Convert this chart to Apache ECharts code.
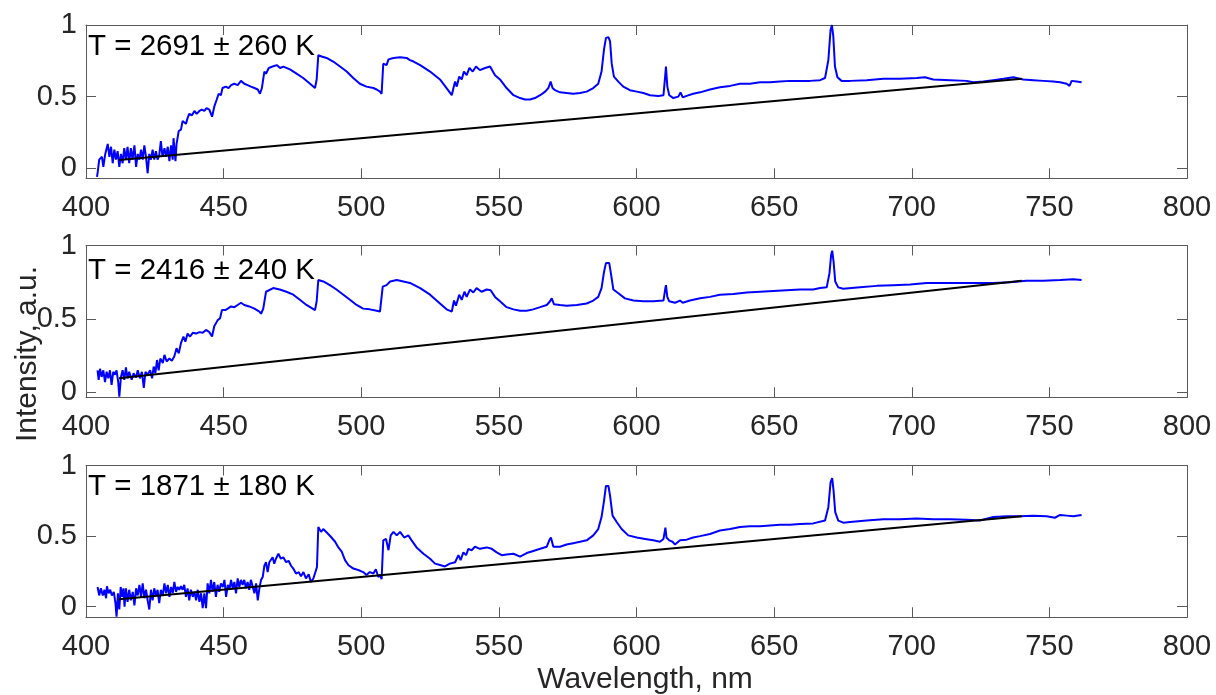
<!DOCTYPE html>
<html>
<head>
<meta charset="utf-8">
<title>Emission spectra with Planck fits</title>
<script src="https://cdn.jsdelivr.net/npm/echarts@6/dist/echarts.min.js"></script>
<style>
  html, body { margin: 0; padding: 0; background: #ffffff; }
  #chart { width: 1216px; height: 695px; }
</style>
</head>
<body>
<div id="chart"></div>
<script>
// Measured spectra: [wavelength (nm), normalised intensity]
const spectrum1 = [[404.0,-0.06],[404.3,-0.02],[404.8,0.06],[405.8,0.08],[406.3,0.01],[407.0,0.10],[407.9,0.17],[408.5,0.08],[409.1,0.15],[409.7,0.035],[410.3,0.13],[410.9,0.06],[411.5,0.12],[412.1,0.01],[412.7,0.10],[413.3,0.035],[413.9,0.14],[414.5,0.06],[415.1,0.15],[415.7,0.035],[416.3,0.14],[416.9,0.06],[417.6,0.16],[418.2,0.01],[418.8,0.10],[419.4,0.06],[420.0,0.13],[420.6,0.06],[421.2,0.16],[421.8,0.08],[422.4,-0.035],[423.0,0.10],[423.6,0.06],[424.2,0.13],[424.8,0.06],[425.4,0.12],[426.0,0.06],[426.6,0.09],[427.2,0.19],[427.8,0.08],[428.5,0.14],[429.1,0.08],[429.7,0.15],[430.3,0.05],[430.9,0.16],[431.5,0.06],[431.8,0.21],[432.5,0.05],[432.9,0.17],[433.7,0.26],[434.5,0.27],[435.1,0.33],[435.7,0.34],[436.3,0.31],[436.9,0.35],[437.5,0.38],[438.5,0.37],[439.4,0.40],[440.2,0.38],[441.2,0.40],[442.1,0.41],[443.0,0.40],[443.8,0.42],[444.8,0.41],[445.8,0.36],[446.6,0.43],[447.5,0.48],[448.2,0.52],[449.0,0.51],[449.6,0.56],[450.8,0.57],[451.8,0.56],[452.7,0.58],[453.9,0.59],[455.1,0.58],[456.3,0.61],[457.5,0.59],[458.7,0.58],[459.9,0.57],[461.2,0.56],[462.4,0.55],[463.2,0.52],[463.9,0.56],[464.8,0.675],[465.4,0.66],[466.4,0.70],[467.8,0.71],[469.3,0.72],[470.5,0.70],[471.7,0.71],[474.1,0.69],[476.5,0.66],[478.9,0.63],[481.4,0.59],[483.2,0.56],[483.8,0.62],[484.4,0.79],[485.6,0.78],[487.4,0.77],[489.8,0.745],[492.3,0.71],[494.7,0.675],[497.1,0.63],[499.5,0.59],[501.9,0.57],[504.4,0.56],[505.6,0.55],[506.8,0.535],[507.4,0.52],[508.0,0.73],[509.2,0.72],[509.9,0.76],[511.7,0.77],[514.1,0.775],[516.5,0.77],[517.7,0.755],[519.0,0.745],[521.4,0.72],[525.0,0.675],[528.6,0.62],[531.0,0.56],[532.9,0.51],[533.5,0.56],[534.1,0.605],[534.7,0.57],[535.6,0.64],[536.5,0.62],[537.3,0.675],[538.3,0.65],[539.3,0.70],[540.5,0.675],[541.7,0.71],[543.1,0.685],[545.0,0.70],[546.8,0.71],[548.6,0.65],[550.4,0.62],[552.8,0.56],[555.3,0.51],[557.7,0.49],[559.5,0.48],[561.3,0.48],[563.1,0.49],[565.0,0.51],[566.8,0.535],[568.0,0.56],[568.8,0.605],[569.5,0.56],[570.4,0.545],[572.2,0.53],[574.6,0.525],[577.0,0.52],[579.5,0.525],[581.9,0.535],[584.3,0.56],[586.1,0.59],[587.3,0.675],[588.2,0.83],[588.9,0.91],[589.8,0.915],[590.4,0.885],[591.0,0.73],[591.8,0.64],[593.4,0.605],[595.2,0.57],[597.6,0.545],[600.1,0.535],[602.5,0.525],[604.9,0.51],[607.9,0.505],[609.8,0.51],[610.4,0.64],[610.7,0.71],[611.2,0.57],[611.9,0.51],[613.4,0.49],[615.2,0.50],[616.0,0.53],[616.8,0.495],[618.2,0.505],[620.6,0.52],[623.1,0.53],[626.7,0.55],[630.3,0.565],[634.0,0.575],[637.6,0.59],[641.2,0.59],[644.9,0.60],[648.5,0.60],[652.1,0.605],[655.8,0.61],[659.4,0.61],[663.0,0.61],[666.7,0.615],[668.5,0.63],[669.7,0.755],[670.5,0.965],[671.0,1.0],[671.5,0.92],[672.1,0.71],[673.0,0.635],[674.5,0.61],[677.6,0.61],[683.6,0.615],[689.7,0.625],[695.7,0.625],[701.8,0.63],[704.8,0.635],[707.8,0.62],[713.9,0.615],[719.9,0.61],[722.4,0.60],[726.0,0.605],[729.6,0.615],[733.3,0.625],[736.9,0.635],[740.5,0.62],[744.2,0.615],[747.8,0.61],[751.4,0.605],[753.9,0.60],[756.3,0.59],[757.3,0.575],[758.1,0.61],[759.9,0.605],[761.7,0.60]];

const spectrum2 = [[404.2,0.15],[404.6,0.085],[405.1,0.16],[405.7,0.105],[406.3,0.15],[406.9,0.07],[407.5,0.14],[408.1,0.095],[408.7,0.15],[409.3,0.05],[409.9,0.14],[410.5,0.12],[411.1,0.15],[411.7,0.07],[412.1,-0.03],[412.7,0.105],[413.3,0.15],[413.9,0.085],[414.5,0.17],[415.1,0.095],[415.7,0.14],[416.6,0.085],[417.3,0.13],[418.2,0.10],[418.8,0.15],[419.6,0.095],[420.3,0.14],[421.0,0.03],[421.6,0.14],[422.4,0.12],[423.3,0.15],[424.0,0.095],[424.6,0.175],[425.2,0.13],[425.8,0.22],[426.4,0.15],[427.0,0.23],[427.9,0.20],[428.5,0.255],[429.3,0.21],[430.3,0.23],[431.2,0.215],[432.1,0.245],[432.9,0.30],[433.7,0.265],[434.5,0.335],[435.4,0.38],[436.1,0.345],[436.9,0.40],[437.8,0.38],[438.8,0.405],[440.0,0.40],[441.2,0.41],[442.4,0.405],[443.6,0.425],[444.8,0.41],[445.8,0.38],[446.6,0.45],[447.8,0.49],[448.7,0.505],[449.4,0.56],[450.6,0.56],[451.5,0.57],[452.7,0.585],[453.9,0.58],[455.1,0.595],[456.3,0.61],[457.5,0.595],[459.3,0.585],[461.2,0.57],[463.0,0.55],[463.6,0.535],[464.4,0.57],[465.4,0.685],[468.0,0.71],[470.4,0.70],[472.8,0.685],[475.3,0.665],[477.7,0.63],[480.1,0.595],[483.2,0.56],[483.8,0.62],[484.4,0.765],[486.2,0.755],[488.6,0.73],[491.0,0.70],[493.5,0.665],[495.9,0.63],[498.3,0.595],[500.7,0.57],[503.1,0.565],[505.6,0.555],[506.8,0.55],[507.8,0.72],[509.2,0.73],[510.5,0.755],[512.9,0.765],[515.3,0.755],[517.7,0.745],[521.4,0.71],[525.0,0.665],[528.6,0.605],[531.0,0.565],[532.9,0.55],[533.7,0.625],[534.4,0.59],[535.6,0.665],[536.5,0.63],[537.5,0.685],[538.3,0.65],[539.5,0.70],[540.7,0.68],[541.9,0.71],[543.7,0.685],[545.6,0.70],[547.0,0.695],[548.6,0.65],[550.4,0.62],[552.8,0.58],[555.3,0.565],[557.7,0.555],[560.1,0.555],[562.5,0.565],[565.0,0.58],[567.4,0.595],[568.6,0.62],[569.2,0.64],[570.0,0.60],[572.2,0.595],[574.6,0.59],[578.3,0.595],[581.9,0.605],[584.3,0.625],[586.1,0.65],[587.3,0.71],[588.2,0.82],[588.9,0.88],[590.1,0.88],[590.7,0.81],[591.6,0.70],[593.4,0.675],[595.8,0.64],[598.9,0.625],[602.5,0.62],[606.1,0.62],[609.8,0.625],[610.4,0.70],[610.7,0.73],[611.2,0.65],[611.9,0.62],[614.0,0.61],[615.8,0.625],[616.8,0.61],[619.4,0.625],[623.1,0.64],[626.7,0.65],[630.3,0.665],[635.2,0.67],[640.0,0.68],[644.9,0.685],[649.7,0.69],[654.5,0.695],[659.4,0.70],[664.2,0.70],[666.7,0.71],[669.1,0.715],[670.1,0.81],[670.7,0.935],[671.1,0.965],[671.6,0.89],[672.2,0.755],[673.3,0.715],[675.1,0.705],[681.2,0.715],[687.3,0.725],[693.3,0.73],[699.4,0.735],[705.4,0.745],[711.5,0.745],[717.5,0.745],[723.6,0.745],[729.6,0.745],[735.7,0.75],[741.7,0.76],[747.8,0.76],[753.9,0.765],[758.7,0.77],[761.7,0.765]];

const spectrum3 = [[404.2,0.14],[404.8,0.08],[405.4,0.13],[406.1,0.08],[406.7,0.12],[407.3,0.06],[407.6,0.145],[408.2,0.095],[408.8,0.12],[409.4,0.08],[410.1,0.105],[410.7,0.025],[411.1,-0.07],[411.6,0.095],[412.1,-0.02],[412.6,0.14],[413.1,0.07],[413.6,0.13],[414.0,0.00],[414.5,0.13],[415.1,0.035],[415.7,0.12],[416.3,0.045],[417.0,0.105],[417.6,0.01],[418.2,0.13],[418.8,0.08],[419.4,0.155],[420.0,0.07],[420.6,0.165],[421.2,0.06],[421.8,0.12],[422.4,0.045],[423.0,-0.02],[423.6,0.12],[424.2,0.045],[424.8,0.13],[425.4,0.08],[426.0,0.12],[426.6,0.025],[427.2,0.12],[427.9,0.08],[428.5,0.165],[429.1,0.095],[429.7,0.155],[430.3,0.07],[430.9,0.14],[431.5,0.095],[432.1,0.175],[432.7,0.105],[433.3,0.14],[433.9,0.12],[434.5,0.145],[435.1,0.12],[435.7,0.155],[436.3,0.07],[436.9,0.13],[437.5,0.045],[438.1,0.12],[438.8,0.07],[439.4,0.105],[440.0,0.045],[440.6,0.12],[441.2,0.035],[441.8,0.095],[442.4,-0.01],[443.0,0.095],[443.6,-0.01],[444.2,0.165],[444.8,0.095],[445.4,0.19],[446.0,0.105],[446.6,0.175],[447.2,0.07],[447.8,0.155],[448.4,0.105],[449.0,0.165],[449.7,0.14],[450.3,0.19],[450.9,0.07],[451.5,0.155],[452.1,0.12],[452.7,0.19],[453.3,0.13],[453.9,0.175],[454.5,0.095],[455.1,0.20],[455.7,0.14],[456.3,0.19],[456.9,0.155],[457.5,0.19],[458.1,0.13],[458.7,0.175],[459.3,0.12],[459.9,0.19],[460.6,0.14],[461.2,0.095],[461.8,0.165],[462.4,0.045],[463.0,0.13],[463.6,0.19],[464.2,0.21],[464.8,0.29],[465.4,0.315],[466.0,0.245],[466.6,0.315],[467.2,0.305],[467.8,0.35],[468.4,0.305],[469.0,0.34],[469.9,0.375],[470.8,0.34],[471.7,0.35],[472.7,0.315],[473.6,0.325],[474.5,0.29],[475.3,0.27],[476.3,0.235],[477.3,0.245],[478.1,0.215],[479.0,0.245],[479.9,0.20],[480.9,0.23],[481.7,0.175],[482.6,0.20],[483.3,0.21],[483.9,0.28],[484.4,0.565],[485.4,0.53],[486.2,0.55],[486.8,0.54],[488.0,0.515],[489.2,0.49],[490.5,0.46],[491.7,0.42],[492.9,0.39],[494.1,0.33],[495.3,0.295],[497.1,0.27],[498.9,0.26],[500.7,0.245],[501.9,0.225],[503.1,0.245],[504.4,0.235],[505.3,0.265],[506.2,0.21],[506.8,0.225],[507.4,0.195],[508.0,0.47],[509.0,0.48],[509.9,0.40],[510.7,0.505],[511.7,0.53],[512.9,0.505],[514.1,0.53],[515.6,0.49],[517.1,0.505],[518.3,0.47],[520.1,0.42],[522.6,0.375],[525.0,0.34],[526.8,0.305],[528.6,0.295],[530.4,0.285],[532.2,0.305],[534.1,0.315],[535.3,0.365],[536.1,0.33],[537.1,0.385],[538.1,0.365],[538.9,0.41],[540.1,0.40],[541.3,0.425],[543.1,0.41],[545.6,0.42],[547.4,0.41],[549.2,0.385],[551.0,0.365],[552.8,0.37],[555.3,0.375],[557.7,0.355],[560.1,0.38],[562.5,0.395],[565.0,0.41],[567.4,0.425],[568.3,0.47],[568.9,0.49],[569.8,0.425],[572.2,0.425],[574.6,0.44],[577.0,0.45],[579.5,0.46],[581.9,0.47],[584.3,0.505],[586.1,0.55],[587.3,0.635],[588.2,0.75],[588.9,0.855],[589.8,0.855],[590.4,0.785],[591.3,0.645],[592.8,0.60],[594.6,0.55],[597.0,0.505],[600.1,0.49],[603.1,0.48],[606.1,0.47],[608.5,0.46],[609.8,0.48],[610.5,0.56],[610.9,0.49],[611.9,0.47],[613.1,0.46],[614.0,0.44],[615.8,0.47],[618.2,0.475],[620.6,0.49],[623.1,0.50],[626.7,0.515],[630.3,0.54],[634.0,0.55],[637.6,0.565],[641.2,0.57],[644.9,0.57],[648.5,0.575],[652.1,0.58],[655.8,0.58],[659.4,0.585],[664.2,0.59],[668.5,0.61],[669.7,0.705],[670.5,0.88],[671.1,0.91],[671.6,0.82],[672.2,0.67],[673.3,0.61],[675.1,0.595],[677.6,0.60],[683.6,0.61],[689.7,0.62],[695.7,0.62],[701.8,0.625],[707.8,0.62],[713.9,0.62],[719.9,0.615],[724.8,0.61],[729.6,0.635],[734.5,0.64],[739.3,0.64],[744.2,0.645],[749.0,0.64],[752.0,0.63],[753.9,0.65],[756.3,0.645],[758.7,0.64],[761.7,0.65]];

// Grey-body fit lines (end points of the fitted range)
const fit1 = [[412, 0.058], [740, 0.624]];
const fit2 = [[412, 0.095], [740, 0.76]];
const fit3 = [[412, 0.052], [740, 0.64]];

// Fitted temperatures shown in each panel
const tempLabels = ['T = 2691 \u00b1 260 K', 'T = 2416 \u00b1 240 K', 'T = 1871 \u00b1 180 K'];

// Axis settings
const xRange = [400, 800];
const xStep = 50;
const yMins = [-0.07, -0.034, -0.075];
const yTicks = [0, 0.5, 1];

// Layout (pixels)
const FONT = 'Liberation Sans, Arial, sans-serif';
const TEXT_COLOR = '#262626';
const AXIS_COLOR = '#5a5a5a';
const PLOT_LEFT = 86;
const PLOT_WIDTH = 1101;
const panelTops = [25, 245.5, 465.5];
const panelHeights = [153.3, 151.8, 151.8];
const labelOffsets = [21.7, 25.8, 21.7];

const spectra = [spectrum1, spectrum2, spectrum3];
const fits = [fit1, fit2, fit3];

const grid = [], xAxis = [], yAxis = [], series = [], graphic = [];

for (let i = 0; i < 3; i++) {
  grid.push({ left: PLOT_LEFT, top: panelTops[i], width: PLOT_WIDTH, height: panelHeights[i], containLabel: false });

  const axisLine = { show: true, onZero: false, lineStyle: { color: AXIS_COLOR, width: 1 } };
  const tick = { show: true, inside: true, length: 10, lineStyle: { color: AXIS_COLOR, width: 1 } };

  // bottom axis with labels
  xAxis.push({
    gridIndex: i, type: 'value', position: 'bottom',
    min: xRange[0], max: xRange[1], interval: xStep,
    axisLine, axisTick: tick, splitLine: { show: false },
    axisLabel: { show: true, margin: 15, fontSize: 29, fontFamily: FONT, color: TEXT_COLOR }
  });
  // top axis: frame and ticks only
  xAxis.push({
    gridIndex: i, type: 'value', position: 'top',
    min: xRange[0], max: xRange[1], interval: xStep,
    axisLine, axisTick: tick, splitLine: { show: false },
    axisLabel: { show: false }
  });
  // left axis with labels
  yAxis.push({
    gridIndex: i, type: 'value', position: 'left',
    min: yMins[i], max: 1,
    axisLine, splitLine: { show: false },
    axisTick: Object.assign({}, tick, { customValues: yTicks }),
    axisLabel: { show: true, margin: 9, fontSize: 29, fontFamily: FONT, color: TEXT_COLOR, customValues: yTicks }
  });
  // right axis: frame and ticks only
  yAxis.push({
    gridIndex: i, type: 'value', position: 'right',
    min: yMins[i], max: 1,
    axisLine, splitLine: { show: false },
    axisTick: Object.assign({}, tick, { customValues: yTicks }),
    axisLabel: { show: false }
  });

  series.push({
    type: 'line', xAxisIndex: 2 * i, yAxisIndex: 2 * i,
    data: spectra[i], showSymbol: false, symbol: 'none',
    lineStyle: { color: '#0000ff', width: 2 }, z: 2, silent: true
  });
  series.push({
    type: 'line', xAxisIndex: 2 * i, yAxisIndex: 2 * i,
    data: fits[i], showSymbol: false, symbol: 'none',
    lineStyle: { color: '#000000', width: 2 }, z: 3, silent: true
  });

  graphic.push({
    type: 'text', x: 88, y: panelTops[i] + labelOffsets[i],
    style: { text: tempLabels[i], fontSize: 29.5, fontFamily: FONT, fill: '#000000', align: 'left', verticalAlign: 'middle' },
    z: 10
  });
}

// Shared axis titles
graphic.push({
  type: 'text', x: 645, y: 680,
  style: { text: 'Wavelength, nm', fontSize: 30, fontFamily: FONT, fill: TEXT_COLOR, align: 'center', verticalAlign: 'middle' }
});
graphic.push({
  type: 'text', x: 28, y: 354, rotation: Math.PI / 2,
  style: { text: 'Intensity, a.u.', fontSize: 30, fontFamily: FONT, fill: TEXT_COLOR, align: 'center', verticalAlign: 'middle' }
});

const chart = echarts.init(document.getElementById('chart'), null, { renderer: 'canvas' });
chart.setOption({
  animation: false,
  backgroundColor: '#ffffff',
  grid, xAxis, yAxis, series, graphic
});
</script>
</body>
</html>
